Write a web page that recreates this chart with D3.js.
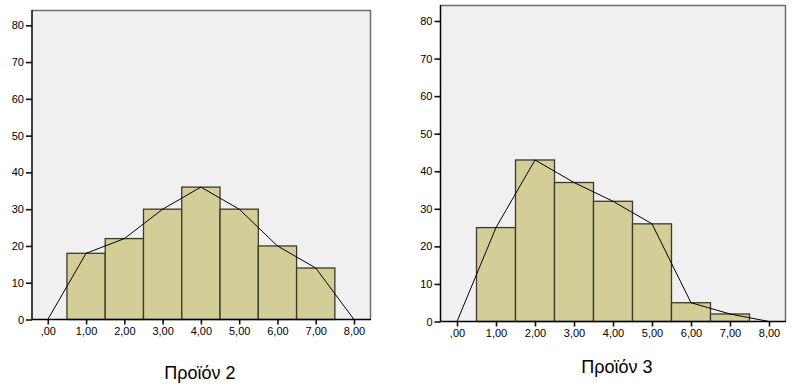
<!DOCTYPE html>
<html>
<head>
<meta charset="utf-8">
<script src="https://cdn.jsdelivr.net/npm/d3@7"></script>
<style>
  body { margin: 0; background: #fff; }
  svg { display: block; }
</style>
</head>
<body>
<div id="chart"></div>
<script>
// histogram data (bins centred on 1..7)
var binCenters = [1, 2, 3, 4, 5, 6, 7];
var prod2Counts = [18, 22, 30, 36, 30, 20, 14];
var prod3Counts = [25, 43, 37, 32, 26, 5, 2];

// frequency polygon points
var polyX = [0, 1, 2, 3, 4, 5, 6, 7, 8];
var prod2Poly = [0, 18, 22, 30, 36, 30, 20, 14, 0];
var prod3Poly = [0, 25, 43, 37, 32, 26, 5, 2, 0];

var yTicks = [0, 10, 20, 30, 40, 50, 60, 70, 80];
var xTicks = [0, 1, 2, 3, 4, 5, 6, 7, 8];
var titles = ["Προϊόν 2", "Προϊόν 3"];

var W = 808, H = 387;
var svg = d3.select("#chart").append("svg")
    .attr("width", W)
    .attr("height", H);

function fmtX(d) {
  // SPSS style: ,00 / 1,00 ...
  return d === 0 ? ",00" : d.toFixed(2).replace(".", ",");
}

function drawHist(cfg) {
  var x = d3.scaleLinear().domain([0, 8]).range(cfg.xr);
  var y = d3.scaleLinear().domain([0, 80]).range(cfg.yr);

  var g = svg.append("g");

  // plot area
  g.append("rect")
    .attr("x", cfg.frame[0]).attr("y", cfg.frame[1])
    .attr("width", cfg.frame[2] - cfg.frame[0])
    .attr("height", cfg.frame[3] - cfg.frame[1])
    .style("fill", "#f0f0f0");
  // top + right border (grey)
  g.append("path")
    .attr("d", "M" + cfg.frame[0] + "," + (cfg.frame[1] + 0.5) +
               "H" + (cfg.frame[2] - 0.5) + "V" + cfg.frame[3])
    .style("fill", "none").style("stroke", "#6e6e6e").style("stroke-width", 1.5);

  // bars
  g.selectAll(".bar")
    .data(cfg.counts)
    .enter().append("rect")
    .attr("class", "bar")
    .attr("x", function(d, i) { return x(binCenters[i] - 0.5); })
    .attr("y", function(d) { return y(d); })
    .attr("width", function(d, i) { return x(binCenters[i] + 0.5) - x(binCenters[i] - 0.5); })
    .attr("height", function(d) { return y(0) - y(d); })
    .style("fill", "#d3ce97")
    .style("stroke", "#3a3a2c")
    .style("stroke-width", 1.3);

  // polygon
  var line = d3.line()
    .x(function(d, i) { return x(polyX[i]); })
    .y(function(d) { return y(d); });
  g.append("path")
    .datum(cfg.poly)
    .attr("d", line)
    .style("fill", "none")
    .style("stroke", "#000")
    .style("stroke-width", 1);

  // y axis
  var yAx = g.append("g")
    .attr("transform", "translate(" + cfg.frame[0] + ",0)")
    .call(d3.axisLeft(y).tickValues(yTicks).tickSize(6).tickPadding(2).tickFormat(d3.format("d")));
  yAx.select(".domain").remove();
  yAx.append("line")
    .attr("x1", 0).attr("x2", 0)
    .attr("y1", cfg.frame[1]).attr("y2", cfg.frame[3])
    .style("stroke", "#000").style("stroke-width", 1.5);

  // x axis
  var xAx = g.append("g")
    .attr("transform", "translate(0," + cfg.frame[3] + ")")
    .call(d3.axisBottom(x).tickValues(xTicks).tickSize(5).tickPadding(3).tickFormat(fmtX));
  xAx.select(".domain").remove();
  xAx.append("line")
    .attr("x1", cfg.frame[0]).attr("x2", cfg.frame[2])
    .style("stroke", "#000").style("stroke-width", 1.5);

  [yAx, xAx].forEach(function(a) {
    a.selectAll(".tick line").style("stroke", "#111").style("stroke-width", 1.6);
    a.selectAll(".tick text")
      .style("font-family", "'Liberation Sans', Arial, sans-serif")
      .style("font-size", "11px")
      .style("fill", "#000");
  });

  // title
  g.append("text")
    .attr("x", cfg.title[0]).attr("y", cfg.title[1])
    .attr("text-anchor", "middle")
    .style("font-family", "'Liberation Sans', Arial, sans-serif")
    .style("font-size", "18px")
    .style("fill", "#000")
    .text(cfg.label);
}

drawHist({
  counts: prod2Counts, poly: prod2Poly, label: titles[0],
  frame: [32, 10, 371, 319.5], xr: [47.8, 354], yr: [319.5, 25.3],
  title: [200, 378.5]
});

drawHist({
  counts: prod3Counts, poly: prod3Poly, label: titles[1],
  frame: [440.5, 5, 786, 321.5], xr: [457, 769], yr: [321.5, 21],
  title: [617, 372.5]
});
</script>
</body>
</html>
